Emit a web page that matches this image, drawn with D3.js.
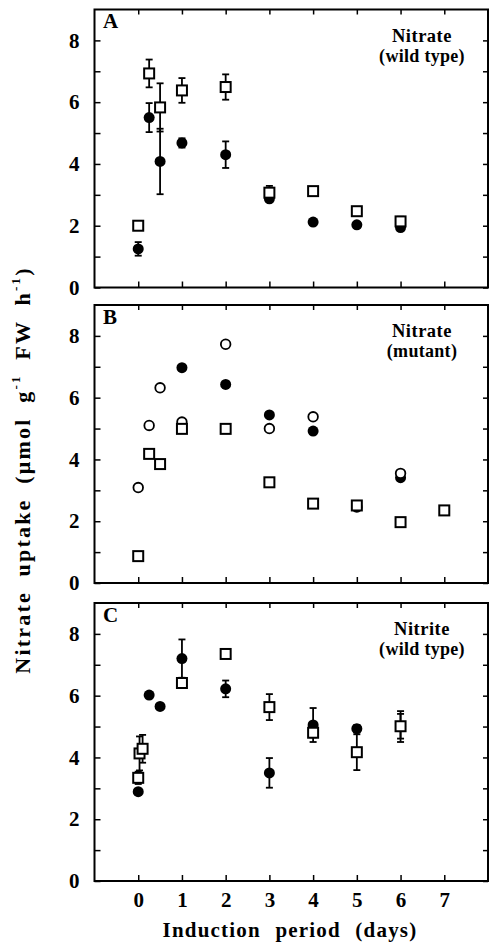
<!DOCTYPE html>
<html lang="en">
<head>
  <meta charset="UTF-8">
  <title>Nitrate uptake vs induction period</title>
  <script src="https://d3js.org/d3.v7.min.js"></script>
  <style>
    body {
      margin: 0;
      background: #fff;
    }
    svg text {
      font-family: "Liberation Serif", "DejaVu Serif", serif;
      font-weight: bold;
      fill: #000;
    }
  </style>
</head>
<body>
  <svg width="489" height="943"></svg>

  <script>
    // each point: [day, uptake, error]
    // panel A - nitrate, wild type
    const aSquares = [[0, 2.0, 0], [0.25, 6.93, 0.45], [0.5, 5.83, 0.78], [1, 6.38, 0.4], [2, 6.49, 0.41],
                      [3, 3.07, 0.22], [4, 3.12, 0.1], [5, 2.47, 0.1], [6, 2.14, 0.15]];
    const aCircles = [[0, 1.25, 0.22], [0.25, 5.5, 0.47], [0.5, 4.08, 1.06], [1, 4.68, 0.15], [2, 4.3, 0.43],
                      [3, 2.87, 0], [4, 2.12, 0], [5, 2.03, 0], [6, 1.94, 0]];

    // panel B - nitrate, mutant
    const bSquares = [[0, 0.87, 0], [0.25, 4.18, 0], [0.5, 3.85, 0], [1, 4.99, 0], [2, 4.99, 0],
                      [3, 3.26, 0], [4, 2.57, 0], [5, 2.51, 0], [6, 1.97, 0], [7, 2.35, 0]];
    const bCircles = [[1, 6.97, 0], [2, 6.43, 0], [3, 5.44, 0], [4, 4.92, 0], [6, 3.41, 0]];
    const bOpen = [[0, 3.09, 0], [0.25, 5.1, 0], [0.5, 6.32, 0], [1, 5.21, 0], [2, 7.73, 0],
                   [3, 5.0, 0], [4, 5.38, 0], [5, 2.46, 0], [6, 3.55, 0]];

    // panel C - nitrite, wild type
    const cSquares = [[0, 3.34, 0.2], [0.03, 4.13, 0.55], [0.1, 4.28, 0.45], [1, 6.41, 0.15], [2, 7.35, 0.1],
                      [3, 5.63, 0.42], [4, 4.8, 0.15], [5, 4.17, 0.58], [6, 5.01, 0.4]];
    const cCircles = [[0, 2.89, 0], [0.25, 6.02, 0], [0.5, 5.65, 0], [1, 7.2, 0.62], [2, 6.22, 0.27],
                      [3, 3.5, 0.48], [4, 5.05, 0.55], [5, 4.93, 0.12], [6, 5.0, 0.5]];

    const xTicks = [0, 1, 2, 3, 4, 5, 6, 7];
    const yTicks = [0, 1, 2, 3, 4, 5, 6, 7, 8];

    const panels = [
      { letter: "A", line1: "Nitrate", line2: "(wild type)", squares: aSquares, circles: aCircles, open: [] },
      { letter: "B", line1: "Nitrate", line2: "(mutant)", squares: bSquares, circles: bCircles, open: bOpen },
      { letter: "C", line1: "Nitrite", line2: "(wild type)", squares: cSquares, circles: cCircles, open: [] }
    ];

    const svg = d3.select("svg");
    const left = 94.5, right = 488;
    const tops = [9.5, 305, 603];
    const panelH = 278;

    const x = d3.scaleLinear().domain([-1, 8]).range([left, right]);

    panels.forEach((p, i) => {
      const top = tops[i];
      const bottom = top + panelH;
      const y = d3.scaleLinear().domain([0, 9]).range([bottom, top]);
      const g = svg.append("g");

      // axes, ticks pointing inward
      g.append("g")
        .attr("transform", `translate(${left},0)`)
        .call(d3.axisLeft(y).tickValues(yTicks).tickSize(-6).tickPadding(15)
          .tickFormat(d => d % 2 === 0 ? d : ""))
        .call(a => a.select(".domain").remove())
        .call(a => a.selectAll("line").attr("stroke-width", 1.5))
        .call(a => a.selectAll("text").attr("font-size", 21));

      g.append("g")
        .attr("transform", `translate(${right},0)`)
        .call(d3.axisRight(y).tickValues(yTicks).tickSize(-5).tickFormat(""))
        .call(a => a.select(".domain").remove())
        .call(a => a.selectAll("line").attr("stroke-width", 1.5));

      g.append("g")
        .attr("transform", `translate(0,${top})`)
        .call(d3.axisTop(x).tickValues(xTicks).tickSize(-5).tickFormat(""))
        .call(a => a.select(".domain").remove())
        .call(a => a.selectAll("line").attr("stroke-width", 1.5));

      g.append("g")
        .attr("transform", `translate(0,${bottom})`)
        .call(d3.axisBottom(x).tickValues(xTicks).tickSize(-6).tickPadding(11)
          .tickFormat(d => i === 2 ? d : ""))
        .call(a => a.select(".domain").remove())
        .call(a => a.selectAll("line").attr("stroke-width", 1.5))
        .call(a => a.selectAll("text").attr("font-size", 21));

      g.append("rect")
        .attr("x", left).attr("y", top)
        .attr("width", right - left).attr("height", panelH)
        .attr("fill", "none").attr("stroke", "#000").attr("stroke-width", 2);

      g.append("text")
        .attr("x", 103).attr("y", top + 14)
        .attr("dominant-baseline", "middle")
        .attr("font-size", 21)
        .text(p.letter);

      g.append("text")
        .attr("x", 422).attr("y", top + 28)
        .attr("text-anchor", "middle").attr("dominant-baseline", "middle")
        .attr("font-size", 18.5).attr("letter-spacing", 0.5)
        .text(p.line1);
      g.append("text")
        .attr("x", 422).attr("y", top + 48)
        .attr("text-anchor", "middle").attr("dominant-baseline", "middle")
        .attr("font-size", 18).attr("letter-spacing", 0.3)
        .text(p.line2);

      // error bars
      const withErr = p.squares.concat(p.circles).filter(d => d[2] > 0);
      const eb = g.append("g").attr("stroke", "#000").attr("stroke-width", 1.8);
      withErr.forEach(d => {
        eb.append("line")
          .attr("x1", x(d[0])).attr("x2", x(d[0]))
          .attr("y1", y(d[1] - d[2])).attr("y2", y(d[1] + d[2]));
        [d[1] - d[2], d[1] + d[2]].forEach(v => {
          eb.append("line")
            .attr("x1", x(d[0]) - 3.5).attr("x2", x(d[0]) + 3.5)
            .attr("y1", y(v)).attr("y2", y(v));
        });
      });

      g.selectAll(".filled")
        .data(p.circles)
        .join("circle")
        .attr("class", "filled")
        .attr("cx", d => x(d[0])).attr("cy", d => y(d[1]))
        .attr("r", 5.5)
        .attr("fill", "#000");

      g.selectAll(".open")
        .data(p.open)
        .join("circle")
        .attr("class", "open")
        .attr("cx", d => x(d[0])).attr("cy", d => y(d[1]))
        .attr("r", 4.8)
        .attr("fill", "#fff").attr("stroke", "#000").attr("stroke-width", 1.8);

      g.selectAll(".sq")
        .data(p.squares)
        .join("rect")
        .attr("class", "sq")
        .attr("x", d => x(d[0]) - 5).attr("y", d => y(d[1]) - 5)
        .attr("width", 10).attr("height", 10)
        .attr("fill", "#fff").attr("stroke", "#000").attr("stroke-width", 2);
    });

    // axis titles
    const yTitle = svg.append("text")
      .attr("transform", "translate(25,470) rotate(-90)")
      .attr("text-anchor", "middle").attr("dominant-baseline", "middle")
      .attr("font-size", 22)
      .attr("letter-spacing", 2.2)
      .attr("word-spacing", 7);
    yTitle.append("tspan").text("Nitrate uptake (\u03bcmol g");
    yTitle.append("tspan").attr("baseline-shift", "super").attr("font-size", 13).text("-1");
    yTitle.append("tspan").text(" FW h");
    yTitle.append("tspan").attr("baseline-shift", "super").attr("font-size", 13).text("-1");
    yTitle.append("tspan").text(")");

    svg.append("text")
      .attr("x", 290).attr("y", 932)
      .attr("text-anchor", "middle").attr("dominant-baseline", "middle")
      .attr("font-size", 21)
      .attr("letter-spacing", 1.2)
      .attr("word-spacing", 8)
      .text("Induction period (days)");
  </script>
</body>
</html>
